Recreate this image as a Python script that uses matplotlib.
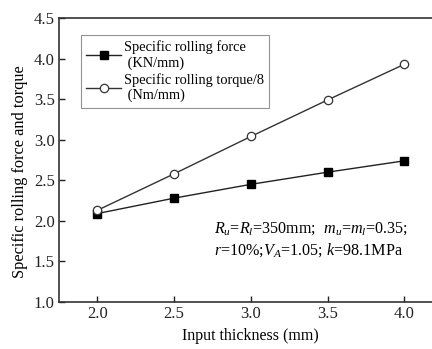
import matplotlib
matplotlib.use("Agg")
import matplotlib.pyplot as plt

thickness = [2.0, 2.5, 3.0, 3.5, 4.0]
force = [2.09, 2.28, 2.45, 2.60, 2.74]
torque = [2.13, 2.58, 3.04, 3.49, 3.93]
xticks = [2.0, 2.5, 3.0, 3.5, 4.0]
yticks = [1.0, 1.5, 2.0, 2.5, 3.0, 3.5, 4.0, 4.5]

plt.rcParams['font.family'] = ['Liberation Serif', 'DejaVu Serif']
plt.rcParams['mathtext.fontset'] = 'custom'
plt.rcParams['mathtext.rm'] = 'Liberation Serif'
plt.rcParams['mathtext.it'] = 'Liberation Serif:italic'

W, H = 432, 349
fig = plt.figure(figsize=(W/100, H/100), dpi=100)
x0, x1 = 59, 59 + 2.5*153.5
y0, y1 = 18, 302
ax = fig.add_axes([x0/W, 1 - y1/H, (x1-x0)/W, (y1-y0)/H])

ax.plot(thickness, force, '-s', color='#222222', lw=1.0, ms=5.5,
        mfc='black', mec='black', label='Specific rolling force\n (KN/mm)')
ax.plot(thickness, torque, '-o', color='#333333', lw=1.0, ms=6,
        mfc='white', mec='#333333', mew=0.9, label='Specific rolling torque/8\n (Nm/mm)')

ax.set_xlim(1.75, 4.25)
ax.set_ylim(1.0, 4.5)
ax.set_xticks(xticks)
ax.set_xticklabels([f"{v:.1f}" for v in xticks])
ax.set_yticks(yticks)
ax.set_yticklabels([f"{v:.1f}" for v in yticks])
ax.tick_params(direction='in', length=4, width=1, labelsize=12, colors='#222222', pad=3)
for s in ax.spines.values():
    s.set_linewidth(1.2)
    s.set_color('#333333')
ax.spines['right'].set_visible(False)

ax.set_xlabel('Input thickness (mm)', fontsize=11.5, labelpad=4)
ax.set_ylabel('Specific rolling force and torque', fontsize=11.8)
ax.yaxis.set_label_coords(-0.08, 0.46)

leg = ax.legend(loc='upper left', bbox_to_anchor=(0.057, 0.94), fontsize=10.4,
                frameon=True, fancybox=False, edgecolor='#777777',
                handlelength=2.4, handletextpad=0.2, labelspacing=0.22,
                borderpad=0.38, borderaxespad=0)
leg.get_frame().set_linewidth(0.8)

ax.text(2.76, 1.91, r'$R_u$=$R_l$=350mm;  $m_u$=$m_l$=0.35;', fontsize=11.6,
        va='center', ha='left')
ax.text(2.76, 1.64, r'$r$=10%;$V_A$=1.05; $k$=98.1MPa', fontsize=11.6,
        va='center', ha='left')

fig.savefig('out.png', dpi=100)
